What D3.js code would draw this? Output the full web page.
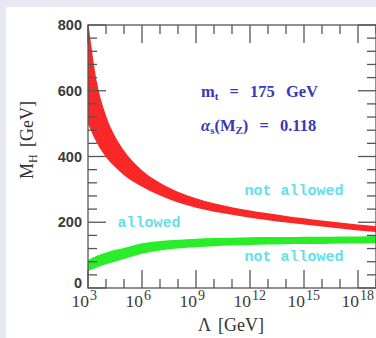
<!DOCTYPE html>
<html><head><meta charset="utf-8">
<script src="https://cdn.jsdelivr.net/npm/d3@7"></script>
<style>html,body{margin:0;padding:0;background:#e8e8f5;overflow:hidden}</style>
</head><body>
<script>
// log10(Lambda / GeV)
const lambdaExp = [3, 3.5, 4, 4.5, 5, 6, 7, 8, 9, 10, 11, 12, 13, 14, 15, 16, 17, 18, 19];
// upper (triviality) bound band, M_H in GeV
const upperBandTop = [815, 625, 525, 462, 418, 358, 320, 293, 273, 258, 246, 236, 227, 219, 212, 205, 199, 193, 188];
const upperBandBottom = [500, 440, 398, 368, 343, 308, 281, 260, 244, 232, 223, 214, 206, 199, 193, 187, 181, 175, 170];
// lower (vacuum stability) bound band
const lowerBandTop = [85, 98, 108, 116, 122, 136, 143, 147, 150, 152, 153, 154, 155, 155, 156, 156, 157, 157, 158];
const lowerBandBottom = [52, 62, 72, 80, 88, 104, 114, 120, 124, 127, 129, 131, 132, 133, 134, 134, 135, 135, 136];

const xMajorExp = [3, 6, 9, 12, 15, 18];
const xMinorExp = d3.range(3, 20);
const yMajor = [0, 200, 400, 600, 800];
const yMinor = d3.range(0, 801, 40);

const W = 376, H = 338;
const svg = d3.select("body").append("svg").attr("width", W).attr("height", H);
svg.append("rect").attr("x", 6).attr("y", 7).attr("width", W).attr("height", H).attr("fill", "#ffffff");

const x = d3.scaleLog().domain([1e3, 1e19]).range([88, 376]);
const y = d3.scaleLinear().domain([0, 800]).range([288, 25]);

const defs = svg.append("defs");
defs.append("clipPath").attr("id", "clip").append("rect")
  .attr("x", 88).attr("y", 25).attr("width", 376 - 88).attr("height", 288 - 25);
const pat = defs.append("pattern").attr("id", "hatchR").attr("patternUnits", "userSpaceOnUse")
  .attr("width", 3).attr("height", 3).attr("patternTransform", "rotate(45)");
pat.append("rect").attr("width", 3).attr("height", 3).attr("fill", "#ff2a2a");
pat.append("line").attr("x1", 0).attr("y1", 0).attr("x2", 0).attr("y2", 3).attr("stroke", "#e01818").attr("stroke-width", 1);
const patG = defs.append("pattern").attr("id", "hatchG").attr("patternUnits", "userSpaceOnUse")
  .attr("width", 3).attr("height", 3).attr("patternTransform", "rotate(45)");
patG.append("rect").attr("width", 3).attr("height", 3).attr("fill", "#2cf02c");
patG.append("line").attr("x1", 0).attr("y1", 0).attr("x2", 0).attr("y2", 3).attr("stroke", "#1ee01e").attr("stroke-width", 1);

const plot = svg.append("g").attr("clip-path", "url(#clip)");
function band(top, bottom, fill) {
  const data = lambdaExp.map((e, i) => ({l: Math.pow(10, e), t: top[i], b: bottom[i]}));
  const area = d3.area().x(d => x(d.l)).y0(d => y(d.b)).y1(d => y(d.t)).curve(d3.curveMonotoneX);
  plot.append("path").datum(data).attr("d", area).attr("fill", fill);
}
band(upperBandTop, upperBandBottom, "url(#hatchR)");
band(lowerBandTop, lowerBandBottom, "url(#hatchG)");

// Frame and ticks
const axCol = "#555";
const g = svg.append("g").attr("stroke", axCol).attr("stroke-width", 1.3);
g.append("rect").attr("x", 88).attr("y", 25).attr("width", 376 - 88).attr("height", 288 - 25).attr("fill", "none");
xMinorExp.forEach(e => {
  const len = xMajorExp.includes(e) ? 18 : 9;
  const px = x(Math.pow(10, e));
  g.append("line").attr("x1", px).attr("x2", px).attr("y1", 288).attr("y2", 288 - len);
  g.append("line").attr("x1", px).attr("x2", px).attr("y1", 25).attr("y2", 25 + len);
});
yMinor.forEach(v => {
  const len = yMajor.includes(v) ? 18 : 9;
  const py = y(v);
  g.append("line").attr("x1", 88).attr("x2", 88 + len).attr("y1", py).attr("y2", py);
  g.append("line").attr("x1", 376).attr("x2", 376 - len).attr("y1", py).attr("y2", py);
});

// Tick labels
yMajor.forEach(v => {
  svg.append("text").attr("x", 82).attr("y", v === 0 ? y(v) - 5 : y(v)).attr("dy", "0.36em")
    .attr("text-anchor", "end").attr("font-family", "Liberation Sans, Arial, sans-serif")
    .attr("font-weight", "bold").attr("font-size", 14.5).attr("fill", "#3a3a3a").text(v);
});
xMajorExp.forEach(e => {
  const px = x(Math.pow(10, e));
  svg.append("text").attr("x", px + 1).attr("y", 307).attr("text-anchor", "end")
    .attr("font-family", "Liberation Serif, Times New Roman, serif").attr("font-size", 17.5)
    .attr("fill", "#3a3a3a").text("10");
  svg.append("text").attr("x", px + 2).attr("y", 300)
    .attr("font-family", "Liberation Serif, Times New Roman, serif").attr("font-size", 14)
    .attr("fill", "#3a3a3a").text(e);
});

// Axis titles
const xt = svg.append("text").attr("x", 231).attr("y", 331).attr("text-anchor", "middle")
  .attr("font-family", "Liberation Serif, Times New Roman, serif").attr("font-size", 18)
  .attr("word-spacing", 3).attr("fill", "#333");
xt.text("Λ [GeV]");
const yt = svg.append("text").attr("transform", "translate(33,140) rotate(-90)").attr("text-anchor", "middle")
  .attr("font-family", "Liberation Serif, Times New Roman, serif").attr("font-size", 18)
  .attr("word-spacing", 3).attr("fill", "#333");
yt.append("tspan").text("M");
yt.append("tspan").attr("font-size", 12).attr("dy", 4).text("H");
yt.append("tspan").attr("dy", -4).text(" [GeV]");

// Parameter annotations
const blue = "#3838b8";
const t1 = svg.append("text").attr("x", 201).attr("y", 97).attr("font-family", "Liberation Serif, Times New Roman, serif")
  .attr("font-size", 16.5).attr("font-weight", "bold").attr("word-spacing", 7).attr("fill", blue);
t1.append("tspan").text("m");
t1.append("tspan").attr("font-size", 11).attr("dy", 3).text("t");
t1.append("tspan").attr("dy", -3).text(" = 175 GeV");
const t2 = svg.append("text").attr("x", 201).attr("y", 131).attr("font-family", "Liberation Serif, Times New Roman, serif")
  .attr("font-size", 16.5).attr("font-weight", "bold").attr("word-spacing", 7).attr("fill", blue);
t2.append("tspan").attr("font-style", "italic").text("α");
t2.append("tspan").attr("font-size", 11).attr("dy", 3).text("s");
t2.append("tspan").attr("dy", -3).text("(M");
t2.append("tspan").attr("font-size", 11).attr("dy", 3).text("Z");
t2.append("tspan").attr("dy", -3).text(") = 0.118");

// Region labels
const cyan = "#62dfe9";
function region(txt, cx, by) {
  svg.append("text").attr("x", cx).attr("y", by).attr("text-anchor", "middle")
    .attr("font-family", "Liberation Mono, Courier New, monospace").attr("font-weight", "bold")
    .attr("font-size", 15).attr("fill", cyan).text(txt);
}
region("not allowed", 294, 195);
region("allowed", 149, 227);
region("not allowed", 294, 261);
</script>
</body></html>
